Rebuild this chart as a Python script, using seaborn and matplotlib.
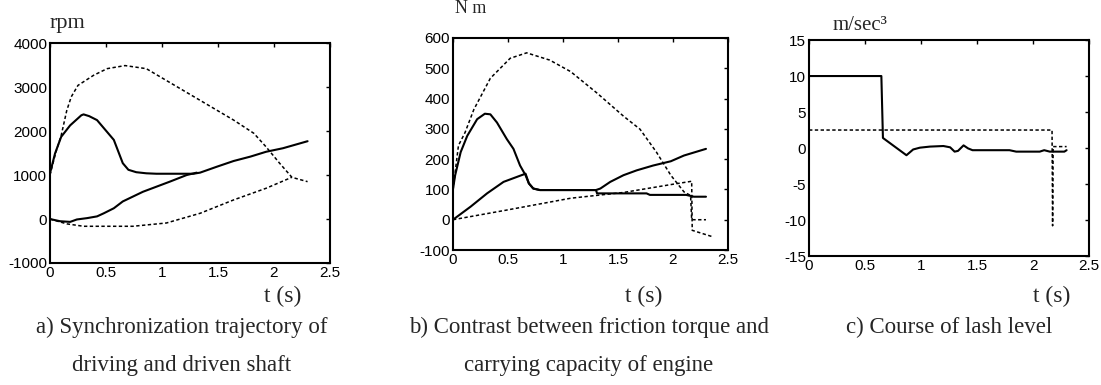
import numpy as np
import matplotlib
matplotlib.use("Agg")
import matplotlib.pyplot as plt
import pandas as pd
import seaborn as sns

# ---- panel a: rpm ----
a_t_drive = [0, 0.045, 0.1, 0.18, 0.28, 0.3, 0.35, 0.42, 0.51, 0.57, 0.65, 0.7, 0.77, 0.86, 0.95,
             1.28, 1.34, 1.49, 1.64, 1.79, 1.93, 2.08, 2.3]
a_v_drive = [1040, 1490, 1870, 2130, 2360, 2380, 2340, 2250, 1980, 1800, 1270, 1120, 1065, 1040, 1030,
             1030, 1055, 1190, 1320, 1420, 1530, 1610, 1770]
a_t_driven = [0, 0.09, 0.18, 0.24, 0.33, 0.42, 0.48, 0.57, 0.65, 0.74, 0.83, 0.95, 1.07, 1.22, 1.31]
a_v_driven = [0, -50, -65, -10, 20, 60, 130, 245, 400, 510, 620, 735, 850, 1000, 1055]
a_t_dash_up = [0, 0.05, 0.1, 0.15, 0.19, 0.25, 0.39, 0.51, 0.67, 0.86, 1.04, 1.34, 1.64, 1.82, 1.93, 2.05,
               2.16, 2.2, 2.3]
a_v_dash_up = [1000, 1500, 1900, 2470, 2780, 3040, 3270, 3420, 3490, 3420, 3150, 2700, 2250, 1950, 1640, 1270,
               950, 920, 850]
a_t_dash_lo = [0, 0.15, 0.3, 0.74, 1.04, 1.34, 1.64, 1.93, 2.16]
a_v_dash_lo = [0, -110, -165, -165, -90, 130, 435, 700, 950]

# ---- panel b: N m ----
b_t_engine = [0, 0.02, 0.07, 0.13, 0.22, 0.29, 0.34, 0.40, 0.49, 0.55, 0.61, 0.66, 0.69, 0.73, 0.79,
              1.3, 1.31, 1.76, 1.79, 2.12, 2.19, 2.3]
b_v_engine = [100, 147, 223, 277, 332, 350, 348, 321, 266, 234, 179, 147, 120, 103, 98,
              98, 87, 87, 82, 82, 76, 76]
b_t_friction = [0, 0.16, 0.31, 0.46, 0.66, 0.69, 0.73, 0.79, 1.3, 1.34, 1.43, 1.55, 1.67, 1.82, 1.98, 2.1, 2.3]
b_v_friction = [0, 43, 87, 125, 152, 120, 103, 98, 98, 103, 125, 147, 163, 179, 193, 212, 234]
b_t_cap = [0, 0.05, 0.11, 0.19, 0.34, 0.52, 0.67, 0.88, 1.07, 1.31, 1.55, 1.70, 1.85, 1.98, 2.1, 2.16, 2.17, 2.3]
b_v_cap = [98, 245, 288, 364, 467, 533, 551, 527, 489, 418, 342, 299, 223, 147, 92, 80, 0, 0]
b_t_line = [0, 0.49, 1.07, 1.55, 1.98, 2.17, 2.175, 2.35]
b_v_line = [0, 32, 71, 90, 116, 127, -35, -55]

# ---- panel c: m/sec^3 ----
c_t_lash = [0, 0.646, 0.66, 0.87, 0.93, 0.99, 1.08, 1.2, 1.26, 1.3, 1.33, 1.38, 1.42, 1.46, 1.79, 1.85,
            2.06, 2.1, 2.15, 2.28, 2.3]
c_v_lash = [10, 10, 1.4, -1.0, -0.2, 0.05, 0.2, 0.28, 0.1, -0.5, -0.4, 0.37, -0.05, -0.3, -0.3, -0.5,
            -0.5, -0.3, -0.5, -0.5, -0.3]
c_t_limit = [0, 2.17, 2.175, 2.18, 2.3]
c_v_limit = [2.5, 2.5, -10.8, 0.2, 0.2]

sns.set_style("white")
plt.rcParams['font.family'] = ['Liberation Sans', 'DejaVu Sans']

fig = plt.figure(figsize=(11.01, 3.85), dpi=100)
ax_a = fig.add_axes([0.0454, 0.3169, 0.2543, 0.571])
ax_b = fig.add_axes([0.4114, 0.3506, 0.2498, 0.5507])
ax_c = fig.add_axes([0.7348, 0.335, 0.2543, 0.561])

dash = (0, (2.2, 1.6))


def draw(ax, t, v, dashed=False):
    sns.lineplot(x=t, y=v, ax=ax, color='k', estimator=None, sort=False,
                 linewidth=1.1 if dashed else 1.5,
                 linestyle=dash if dashed else '-')


draw(ax_a, a_t_drive, a_v_drive)
draw(ax_a, a_t_driven, a_v_driven)
draw(ax_a, a_t_dash_up, a_v_dash_up, True)
draw(ax_a, a_t_dash_lo, a_v_dash_lo, True)

draw(ax_b, b_t_engine, b_v_engine)
draw(ax_b, b_t_friction, b_v_friction)
draw(ax_b, b_t_cap, b_v_cap, True)
draw(ax_b, b_t_line, b_v_line, True)

draw(ax_c, c_t_lash, c_v_lash)
draw(ax_c, c_t_limit, c_v_limit, True)

limits = [(ax_a, (-1000, 4000), np.arange(-1000, 4001, 1000)),
          (ax_b, (-100, 600), np.arange(-100, 601, 100)),
          (ax_c, (-15, 15), np.arange(-15, 16, 5))]
for ax, ylim, yt in limits:
    ax.set_xlim(0, 2.5)
    ax.set_ylim(*ylim)
    ax.set_xticks([0, 0.5, 1, 1.5, 2, 2.5])
    ax.set_xticklabels(['0', '0.5', '1', '1.5', '2', '2.5'])
    ax.set_yticks(yt)
    ax.set_yticklabels([str(v) for v in yt])
    ax.tick_params(direction='in', length=3, width=1, top=True, right=True,
                   labelsize=11, pad=2, colors='k')
    for s in ax.spines.values():
        s.set_color('k')
        s.set_linewidth(1.5)
    ax.set_xlabel('')
    ax.set_ylabel('')

serif = ['Liberation Serif', 'DejaVu Serif']
fig.text(0.0454, 0.927, 'rpm', family=serif, fontsize=16, va='baseline')
fig.text(0.4133, 0.966, 'N m', family=serif, fontsize=13, va='baseline')
fig.text(0.7566, 0.922, 'm/sec\u00b3', family=serif, fontsize=15, va='baseline')

for x in [283 / 1101, 644 / 1101, 1052 / 1101]:
    fig.text(x, 0.2312, 't (s)', family=serif, fontsize=17, ha='center', va='center')

cap = dict(family=serif, fontsize=16.5, ha='center', va='center')
fig.text(0.1653, 0.1506, 'a) Synchronization trajectory of', **cap)
fig.text(0.1653, 0.0519, 'driving and driven shaft', **cap)
fig.text(0.535, 0.1506, 'b) Contrast between friction torque and', **cap)
fig.text(0.535, 0.0519, 'carrying capacity of engine', **cap)
fig.text(0.862, 0.1506, 'c) Course of lash level', **cap)

fig.savefig('out.png', dpi=100)
